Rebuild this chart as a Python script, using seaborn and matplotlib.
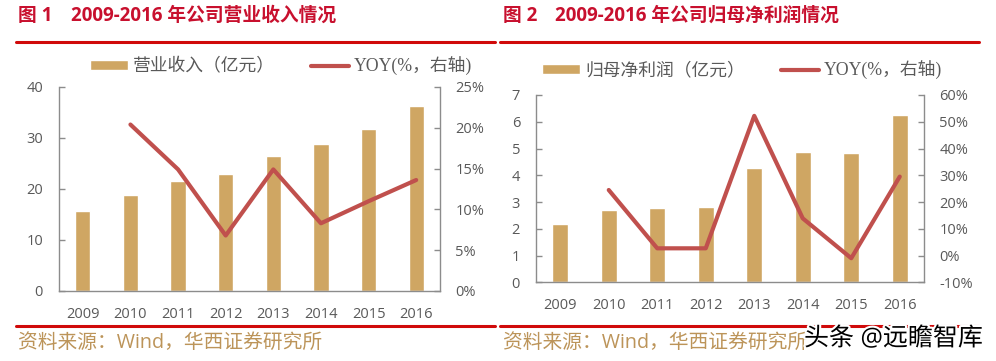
import numpy as np
import seaborn as sns
import matplotlib.pyplot as plt
from matplotlib.lines import Line2D
from matplotlib.ticker import PercentFormatter
import matplotlib.patheffects as pe

sns.set_style('white')
plt.rcParams['font.family'] = ['Open Sans', 'Noto Sans CJK SC', 'DejaVu Sans']
plt.rcParams['axes.unicode_minus'] = False

# data
years = ['2009', '2010', '2011', '2012', '2013', '2014', '2015', '2016']
revenue = [15.6, 18.8, 21.6, 23.0, 26.5, 28.8, 31.8, 36.2]
revenue_yoy = [20.4, 14.9, 6.8, 14.9, 8.3, 11.0, 13.6]  # 2010-2016
profit = [2.17, 2.69, 2.78, 2.81, 4.28, 4.87, 4.82, 6.24]
profit_yoy = [24.5, 2.7, 2.7, 52.2, 13.9, -1.0, 29.5]  # 2010-2016

bar_color = '#CFA663'
line_color = '#C0504D'
spine_color = '#8C8C8C'
text_color = '#595959'
red = '#D00A0A'


def draw_panel(ax, values, yoy, ylim, yticks, ylim2, yticks2, bar_label, legend_xy):
    sns.barplot(x=years, y=values, order=years, color=bar_color, saturation=1,
                width=0.32, ax=ax)
    ax2 = ax.twinx()
    sns.pointplot(x=years[1:], y=yoy, order=years, color=line_color, errorbar=None,
                  marker='', linewidth=3, ax=ax2)
    for a in (ax, ax2):
        a.set_xlim(-0.5, 7.5)
        a.set_xlabel('')
        a.set_ylabel('')
    ax.set_ylim(*ylim)
    ax.set_yticks(yticks)
    ax2.set_ylim(*ylim2)
    ax2.set_yticks(yticks2)
    ax2.yaxis.set_major_formatter(PercentFormatter(decimals=0))

    for a in (ax, ax2):
        for s in a.spines.values():
            s.set_color(spine_color)
            s.set_linewidth(1)
        a.spines['top'].set_visible(False)
    ax.spines['right'].set_visible(False)
    ax2.spines['left'].set_visible(False)
    ax2.spines['bottom'].set_visible(False)

    ax.set_xticks(np.arange(-0.5, 8, 1), minor=True)
    ax.tick_params(axis='x', which='major', length=0, pad=11.5, labelsize=10.5,
                   labelcolor=text_color)
    ax.tick_params(axis='x', which='minor', direction='out', length=4,
                   color=spine_color, width=1)
    ax.tick_params(axis='y', direction='in', length=4, color=spine_color, width=1,
                   left=True, pad=11.5, labelsize=10.5, labelcolor=text_color)
    ax2.tick_params(axis='y', direction='in', length=4, color=spine_color, width=1,
                    right=True, pad=11, labelsize=10.5, labelcolor=text_color)

    handles = [ax.patches[0], ax2.lines[0]]
    fig.legend(handles, [bar_label, 'YOY(%，右轴)'], loc='center',
               bbox_to_anchor=legend_xy, ncol=2, frameon=False,
               prop={'family': ['Liberation Serif', 'Noto Sans CJK SC'], 'size': 12.8},
               labelcolor=text_color, handlelength=2.15, handleheight=0.45,
               handletextpad=0.3, columnspacing=2.0)


fig = plt.figure(figsize=(9.96, 3.61), dpi=100)
ax_left = fig.add_axes([59 / 996, 1 - 291 / 361, 381 / 996, 204 / 361])
ax_right = fig.add_axes([536 / 996, 1 - 282.3 / 361, 388 / 996, 187.3 / 361])

draw_panel(ax_left, revenue, revenue_yoy, (0, 40), [0, 10, 20, 30, 40],
           (0, 25), [0, 5, 10, 15, 20, 25], '营业收入（亿元）',
           (281 / 996, 1 - 66 / 361))
draw_panel(ax_right, profit, profit_yoy, (0, 7), range(0, 8),
           (-10, 60), range(-10, 61, 10), '归母净利润（亿元）',
           (742 / 996, 1 - 70 / 361))

# titles
title_kw = dict(color='#C8102E', fontsize=13.5, fontweight='bold', va='center', ha='left')
fig.text(18 / 996, 1 - 16 / 361, '图 1', **title_kw)
fig.text(71 / 996, 1 - 16 / 361, '2009-2016 年公司营业收入情况', **title_kw)
fig.text(503 / 996, 1 - 16 / 361, '图 2', **title_kw)
fig.text(555 / 996, 1 - 16 / 361, '2009-2016 年公司归母净利润情况', **title_kw)

# red rules
for x0, x1 in [(16, 495), (500, 979)]:
    for y in (42, 326):
        fig.add_artist(Line2D([x0 / 996, x1 / 996], [1 - y / 361] * 2,
                              color=red, lw=2.2, transform=fig.transFigure))

# source notes
src_kw = dict(color='#BC9459', fontsize=14.2, va='center', ha='left')
fig.text(18 / 996, 1 - 343 / 361, '资料来源：Wind，华西证券研究所', **src_kw)
fig.text(503 / 996, 1 - 343 / 361, '资料来源：Wind，华西证券研究所', **src_kw)

fig.text(804 / 996, 1 - 339 / 361, '头条 @远瞻智库', fontsize=18, color='black',
         va='center', ha='left',
         path_effects=[pe.withStroke(linewidth=3, foreground='white')])

fig.savefig('out.png', dpi=100)
